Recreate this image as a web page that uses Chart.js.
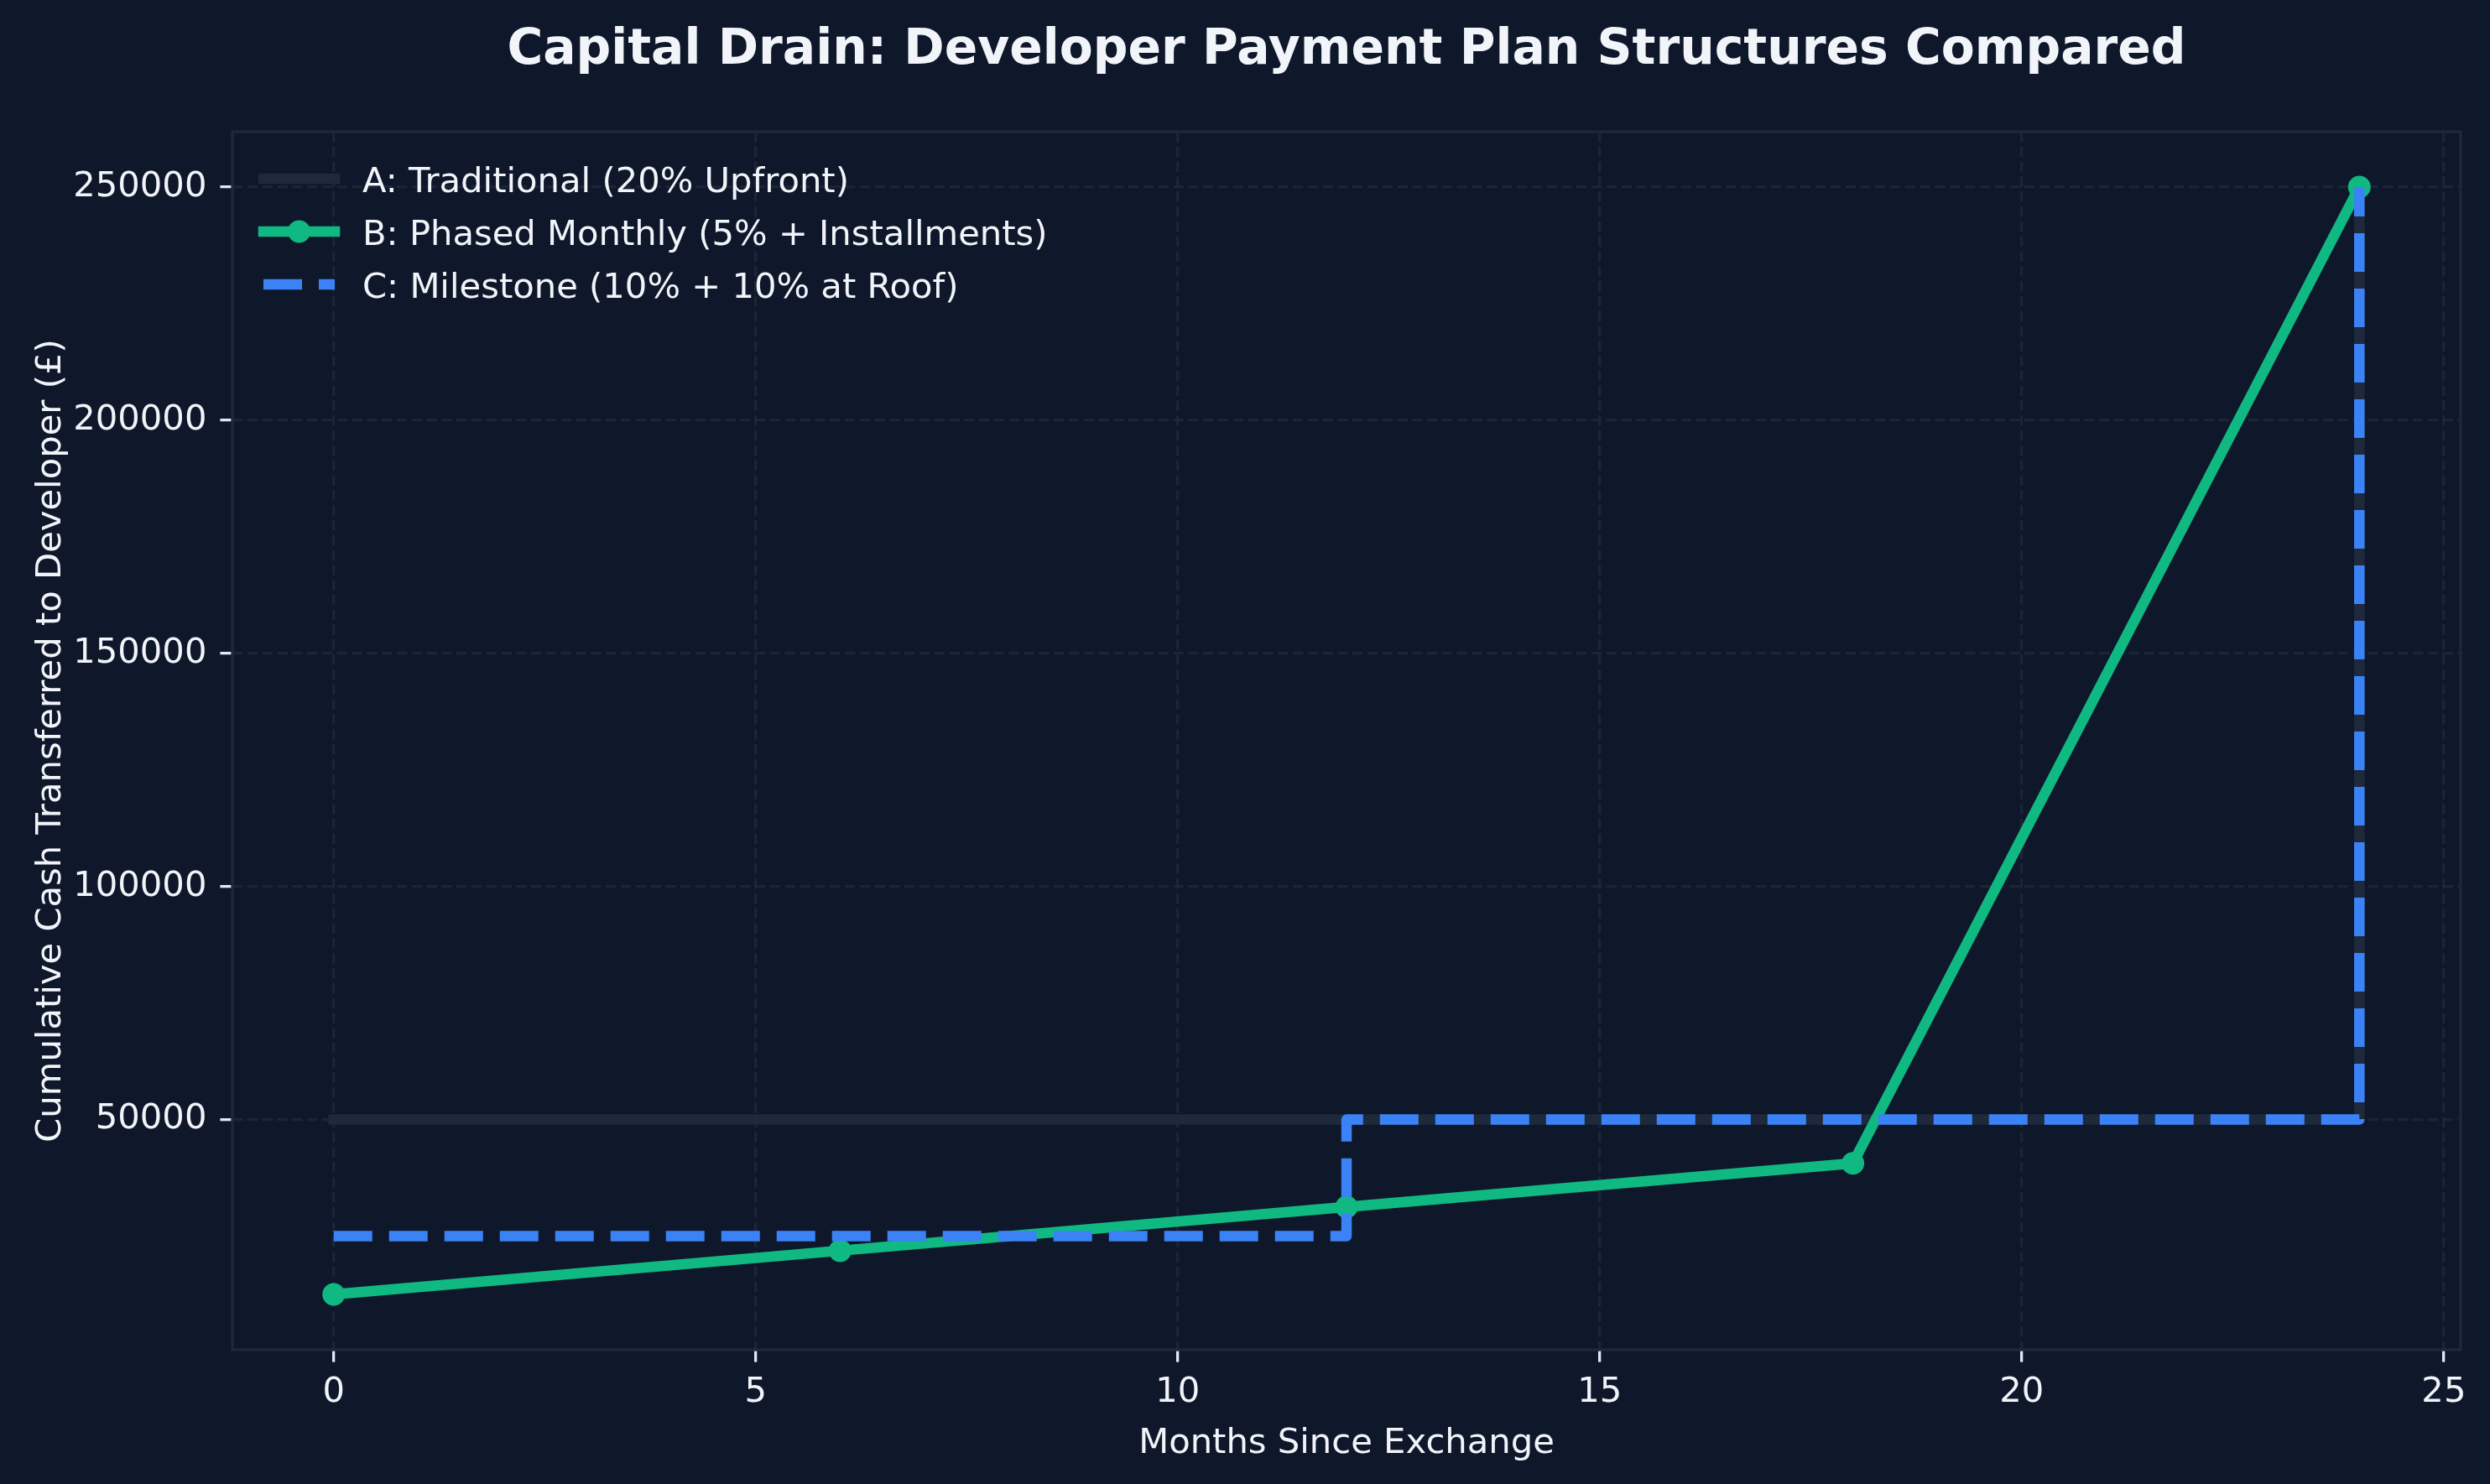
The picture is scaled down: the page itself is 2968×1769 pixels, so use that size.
<!DOCTYPE html>
<html>
<head>
<meta charset="utf-8">
<title>Capital Drain</title>
<script src="https://cdn.jsdelivr.net/npm/chart.js@4.4.0/dist/chart.umd.min.js"></script>
<style>
    html, body { margin: 0; padding: 0; background: #0f172a; }
    #chart { display: block; }
</style>
</head>
<body>
<canvas id="chart" width="2968" height="1769"></canvas>
<script>
(function () {
    "use strict";

    // Data
    var months = [0, 6, 12, 18, 24];
    var planA = [50000, 50000, 50000, 50000, 250000];
    var planB = [12500, 21875, 31250, 40625, 250000];
    var planC = [25000, 25000, 50000, 50000, 250000];
    var xTicks = [0, 5, 10, 15, 20, 25];
    var yTicks = [50000, 100000, 150000, 200000, 250000];
    var labels = ["A: Traditional (20% Upfront)", "B: Phased Monthly (5% + Installments)", "C: Milestone (10% + 10% at Roof)"];

    var BG = "#0f172a";
    var SPINE = "#1e293b";
    var GRID = "rgba(30, 41, 59, 0.8)";
    var TEXT = "#f1f5f9";
    var FONT = "'DejaVu Sans', sans-serif";

    function points(ys) {
        return months.map(function (m, i) { return {x: m, y: ys[i]}; });
    }


    // Title, axis labels, frame and legend
    var decor = {
        id: "decor",
        beforeDraw: function (chart) {
            var ctx = chart.ctx;
            ctx.save();
            ctx.fillStyle = BG;
            ctx.fillRect(0, 0, chart.width, chart.height);
            ctx.restore();
        },
        beforeDatasetsDraw: function (chart) {
            var ctx = chart.ctx, a = chart.chartArea;
            ctx.save();
            ctx.strokeStyle = SPINE;
            ctx.lineWidth = 3.3;
            ctx.strokeRect(a.left, a.top, a.right - a.left, a.bottom - a.top);
            ctx.restore();
        },
        afterDraw: function (chart) {
            var ctx = chart.ctx, a = chart.chartArea;
            var cx = (a.left + a.right) / 2;
            ctx.save();
            ctx.fillStyle = TEXT;
            ctx.textAlign = "center";
            ctx.textBaseline = "alphabetic";

            ctx.font = "bold 58.3px " + FONT;
            ctx.fillText("Capital Drain: Developer Payment Plan Structures Compared", cx, 76);

            ctx.font = "41.7px " + FONT;
            ctx.fillText("Months Since Exchange", cx, 1732);

            ctx.save();
            ctx.translate(72, (a.top + a.bottom) / 2);
            ctx.rotate(-Math.PI / 2);
            ctx.fillText("Cumulative Cash Transferred to Developer (\u00a3)", 0, 0);
            ctx.restore();

            // legend
            var rows = [213, 276, 339];
            var x0 = 314, x1 = 399;
            var ds = chart.data.datasets;
            for (var i = 0; i < 3; i++) {
                var d = ds[i], y = rows[i];
                ctx.beginPath();
                ctx.strokeStyle = d.borderColor;
                ctx.lineWidth = d.borderWidth;
                ctx.lineCap = d.borderCapStyle;
                ctx.setLineDash(d.borderDash || []);
                ctx.moveTo(x0, y);
                ctx.lineTo(x1, y);
                ctx.stroke();
                ctx.setLineDash([]);
                if (d.pointRadius > 0) {
                    ctx.beginPath();
                    ctx.fillStyle = d.pointBackgroundColor;
                    ctx.arc((x0 + x1) / 2, y, d.pointRadius, 0, Math.PI * 2);
                    ctx.fill();
                }
                ctx.fillStyle = TEXT;
                ctx.textAlign = "left";
                ctx.font = "41.7px " + FONT;
                ctx.fillText(labels[i], 432, y + 16);
            }
            ctx.restore();
        }
    };


    var ctx = document.getElementById("chart").getContext("2d");
    var myChart = new Chart(ctx, {
        type: "line",
        data: {
            datasets: [{
                    label: labels[0],
                    data: points(planA),
                    borderColor: SPINE,
                    borderWidth: 12.5,
                    borderCapStyle: "square",
                    borderJoinStyle: "round",
                    stepped: true,
                    pointRadius: 0,
                    order: 3
                },
                {
                    label: labels[1],
                    data: points(planB),
                    borderColor: "#10b981",
                    borderWidth: 12.5,
                    borderCapStyle: "square",
                    borderJoinStyle: "round",
                    pointRadius: 13.5,
                    pointBackgroundColor: "#10b981",
                    pointBorderWidth: 0,
                    order: 2
                },
                {
                    label: labels[2],
                    data: points(planC),
                    borderColor: "#3b82f6",
                    borderWidth: 12.5,
                    borderDash: [46, 20],
                    borderCapStyle: "butt",
                    borderJoinStyle: "round",
                    stepped: true,
                    pointRadius: 0,
                    order: 1
                }
            ]
        },
        options: {
            responsive: false,
            animation: false,
            devicePixelRatio: 1,
            events: [],
            layout: {
                padding: {top: 157, right: 35, left: 0, bottom: 0}
            },
            plugins: {
                legend: {display: false},
                title: {display: false},
                tooltip: {enabled: false}
            },
            scales: {
                x: {
                    type: "linear",
                    min: -1.2,
                    max: 25.2,
                    afterBuildTicks: function (scale) {
                        scale.ticks = xTicks.map(function (v) { return {value: v}; });
                    },
                    afterFit: function (scale) { scale.height = 160; },
                    grid: {
                        color: GRID,
                        lineWidth: 3.3,
                        tickColor: "#e2e8f0",
                        tickWidth: 3.3,
                        tickLength: 14.6
                    },
                    border: {display: false, dash: [12.5, 5.3]},
                    ticks: {
                        color: TEXT,
                        padding: 12,
                        maxRotation: 0,
                        font: {family: FONT, size: 41.7},
                        callback: function (v) { return String(v); }
                    }
                },
                y: {
                    type: "linear",
                    min: 625,
                    max: 261875,
                    afterBuildTicks: function (scale) {
                        scale.ticks = yTicks.map(function (v) { return {value: v}; });
                    },
                    afterFit: function (scale) { scale.width = 277; },
                    grid: {
                        color: GRID,
                        lineWidth: 3.3,
                        tickColor: "#e2e8f0",
                        tickWidth: 3.3,
                        tickLength: 14.6
                    },
                    border: {display: false, dash: [12.5, 5.3]},
                    ticks: {
                        color: TEXT,
                        padding: 16,
                        font: {family: FONT, size: 41.7},
                        callback: function (v) { return String(v); }
                    }
                }
            }
        },
        plugins: [decor]
    });

})();
</script>
</body>
</html>
